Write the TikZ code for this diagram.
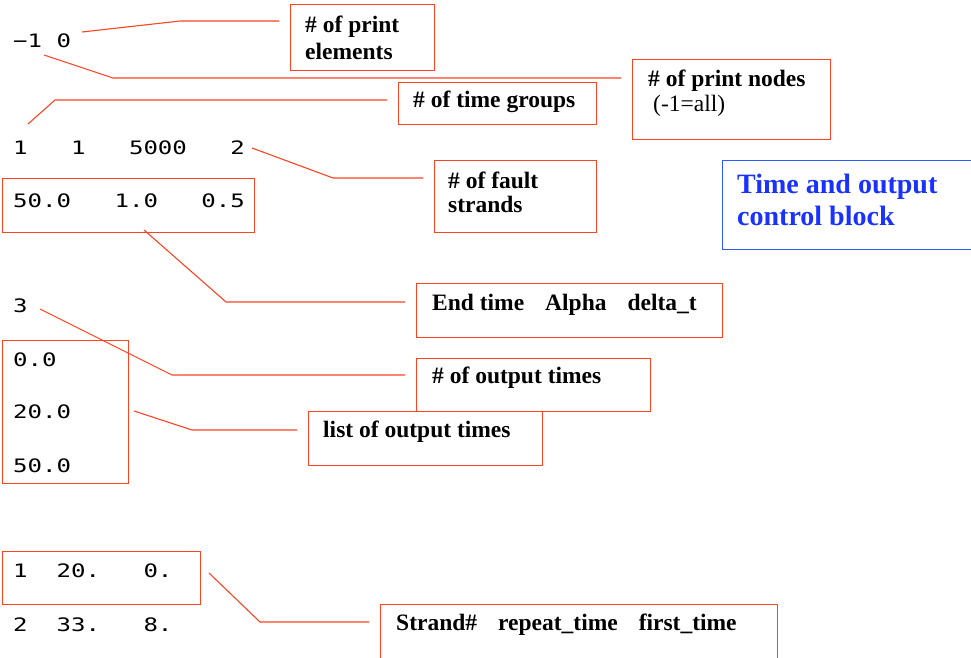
\documentclass[tikz,border=0pt]{standalone}
\usepackage{fontspec}
\setmainfont{Liberation Serif}
\newfontfamily\codefont[FakeStretch=1.3]{DejaVu Sans Mono}
\definecolor{linered}{RGB}{255,68,36}
\definecolor{ctlblue}{RGB}{45,90,255}
\definecolor{ctltext}{RGB}{25,50,255}
\begin{document}
\begin{tikzpicture}[x=1pt,y=-1pt,
  redbox/.style={draw=linered, line width=1.4pt, inner sep=0pt, anchor=north west},
  bluebox/.style={draw=ctlblue, line width=1.4pt, inner sep=0pt, anchor=north west},
  conn/.style={draw=linered, line width=1.1pt, shorten >=11pt},
  code/.style={anchor=base west, inner sep=0pt, font=\codefont\fontsize{18.5}{22}\selectfont},
  lbl/.style={anchor=base west, inner sep=0pt, font=\fontsize{23.5}{28}\selectfont\bfseries},
  lblplain/.style={anchor=base west, inner sep=0pt, font=\fontsize{23.5}{28}\selectfont},
  ctl/.style={anchor=base west, inner sep=0pt, text=ctltext, font=\fontsize{28}{32}\selectfont\bfseries}]
\useasboundingbox (0,0) rectangle (971,658);
\clip (0,0) rectangle (971,658);

% ---- input file lines ----
\node[code] (l1) at (13,48)  {−1\ 0};
\node[code] (l2) at (13,154) {1\ \ \ 1\ \ \ 5000\ \ \ 2};
\node[code] (l3) at (13,207) {50.0\ \ \ 1.0\ \ \ 0.5};
\node[code] (l4) at (13,312) {3};
\node[code] (l5) at (13,366) {0.0};
\node[code] (l6) at (13,418) {20.0};
\node[code] (l7) at (13,472) {50.0};
\node[code] (l8) at (13,577) {1\ \ 20.\ \ \ 0.};
\node[code] (l9) at (13,631) {2\ \ 33.\ \ \ 8.};

% ---- boxes round groups of input lines ----
\node[redbox, minimum width=252, minimum height=54]  (cb1) at (2,178) {};
\node[redbox, minimum width=126, minimum height=143] (cb2) at (2,340) {};
\node[redbox, minimum width=198, minimum height=53]  (cb3) at (2,551) {};

% ---- explanation boxes ----
\node[redbox, minimum width=144, minimum height=66] (pe) at (290,4) {};
\node[lbl] (pe1) at (305,33) {\# of print};
\node[lbl] (pe2) at (305,60) {elements};

\node[redbox, minimum width=198, minimum height=80] (pn) at (632,59) {};
\node[lbl] (pn1) at (648,87) {\# of print nodes};
\node[lblplain] (pn2) at (653,112) {(-1=all)};

\node[redbox, minimum width=198, minimum height=42] (tg) at (398,82) {};
\node[lbl] (tg1) at (413,108) {\# of time groups};

\node[redbox, minimum width=162, minimum height=72] (fs) at (434,160) {};
\node[lbl] (fs1) at (448,188) {\# of fault};
\node[lbl] (fs2) at (448,212) {strands};

\node[redbox, minimum width=306, minimum height=54] (et) at (416,283) {};
\node[lbl] (et1) at (432,310) {End time\hspace{21pt}Alpha\hspace{21pt}delta\_t};

\node[redbox, minimum width=234, minimum height=53] (ot) at (416,358) {};
\node[lbl] (ot1) at (432,383) {\# of output times};

\node[redbox, minimum width=234, minimum height=54] (lo) at (308,411) {};
\node[lbl] (lo1) at (323,437) {list of output times};

\node[redbox, minimum width=397, minimum height=70] (st) at (380,604) {};
\node[lbl] (st1) at (396,630) {Strand\#\hspace{21pt}repeat\_time\hspace{21pt}first\_time};

% ---- block title ----
\node[bluebox, minimum width=270, minimum height=89] (ctlbox) at (722,160) {};
\node[ctl] (ctl1) at (737,193) {Time and output};
\node[ctl] (ctl2) at (737,225) {control block};

% ---- leader lines ----
\coordinate (sa) at (82,32);   \coordinate (ka) at (180,21);
\coordinate (sb) at (44,55);   \coordinate (kb) at (113,78);
\coordinate (sc) at (28,124);  \coordinate (kc) at (55,100);
\coordinate (sd) at (252,148); \coordinate (kd) at (333,178);
\coordinate (se) at (144,230); \coordinate (ke) at (226,302);
\coordinate (sf) at (40,309);  \coordinate (kf) at (172,375);
\coordinate (sg) at (134,411); \coordinate (kg) at (192,430);
\coordinate (sh) at (209,573); \coordinate (kh) at (260,622);

\draw[conn] (sa) -- (ka) -- (ka -| pe.west);
\draw[conn] (sb) -- (kb) -- (kb -| pn.west);
\draw[conn] (sc) -- (kc) -- (kc -| tg.west);
\draw[conn] (sd) -- (kd) -- (kd -| fs.west);
\draw[conn] (se) -- (ke) -- (ke -| et.west);
\draw[conn] (sf) -- (kf) -- (kf -| ot.west);
\draw[conn] (sg) -- (kg) -- (kg -| lo.west);
\draw[conn] (sh) -- (kh) -- (kh -| st.west);
\end{tikzpicture}
\end{document}
